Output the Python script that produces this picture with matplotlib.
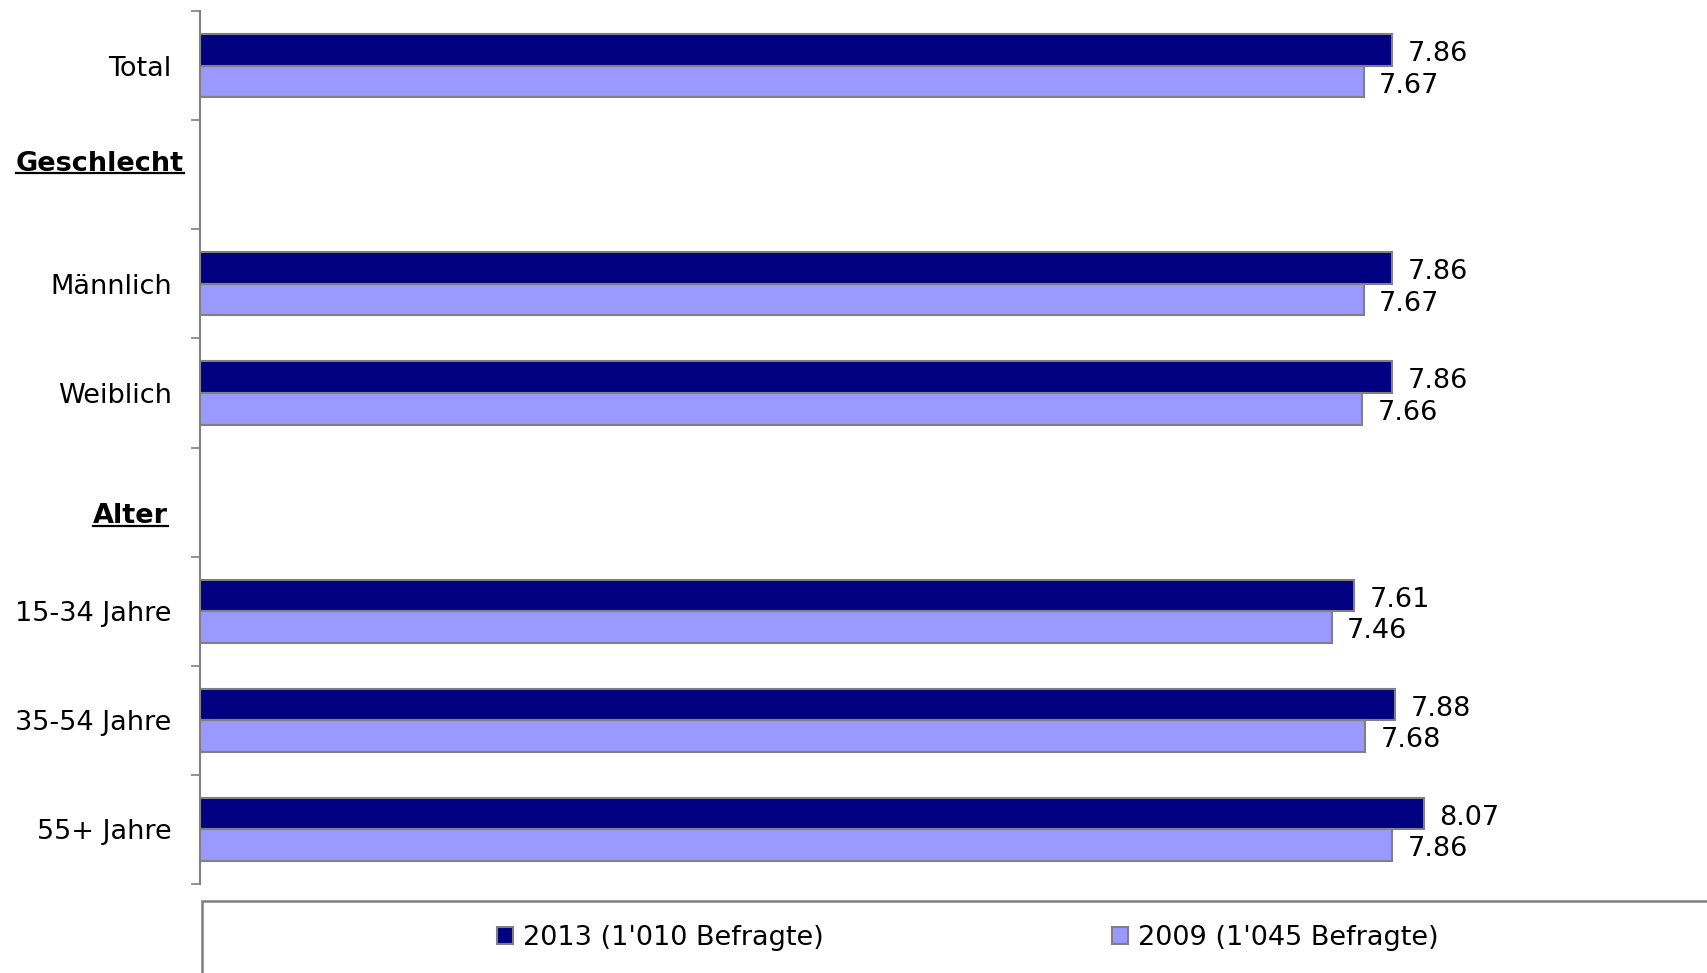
import numpy as np
import matplotlib.pyplot as plt
from matplotlib.patches import Rectangle
from matplotlib.lines import Line2D

plt.rcParams['font.family'] = ['DejaVu Sans']

# rows of the chart, header rows carry no bars
rows = ['Total', 'Geschlecht', 'Männlich', 'Weiblich', 'Alter',
        '15-34 Jahre', '35-54 Jahre', '55+ Jahre']
header_rows = ['Geschlecht', 'Alter']
data_rows = ['Total', 'Männlich', 'Weiblich', '15-34 Jahre', '35-54 Jahre', '55+ Jahre']
values_2013 = [7.86, 7.86, 7.86, 7.61, 7.88, 8.07]
values_2009 = [7.67, 7.67, 7.66, 7.46, 7.68, 7.86]
legend_labels = ["2013 (1'010 Befragte)", "2009 (1'045 Befragte)"]

dark = '#000080'
light = '#9999FF'
edge = '#808080'
fs = 19.5

W, H = 1708, 973
fig = plt.figure(figsize=(W / 100, H / 100), dpi=100)
ax = fig.add_axes([200 / W, 1 - 884 / H, 1 - 200 / W, (884 - 11) / H])

pos = np.array([rows.index(r) for r in data_rows])
bh = 0.29
b1 = ax.barh(pos - bh / 2, values_2013, height=bh, color=dark, edgecolor=edge, linewidth=1.5)
b2 = ax.barh(pos + bh / 2, values_2009, height=bh, color=light, edgecolor=edge, linewidth=1.5)

for bars, vals in ((b1, values_2013), (b2, values_2009)):
    for rect, v in zip(bars, vals):
        y = rect.get_y() + rect.get_height() / 2
        ax.annotate(f'{v:.2f}', (v, y), xytext=(11, -3), textcoords='offset points',
                    ha='left', va='center', fontsize=fs)

ax.set_xlim(0, 1508 / 151.7)
ax.set_ylim(len(rows) - 0.5, -0.5)

# category labels (header rows are drawn separately)
ax.set_yticks(range(len(rows)))
ax.set_yticklabels([r if r not in header_rows else '' for r in rows], fontsize=fs)
ax.tick_params(axis='y', which='major', length=0, pad=20.5)
ax.set_yticks(np.arange(-0.5, len(rows)), minor=True)
ax.tick_params(axis='y', which='minor', length=6.5, width=1.2, color=edge)
ax.set_xticks([])
for s in ('top', 'right', 'bottom'):
    ax.spines[s].set_visible(False)
ax.spines['left'].set_color(edge)
ax.spines['left'].set_linewidth(1.5)

# bold underlined headers
header_pos = {'Geschlecht': (184, 170.7), 'Alter': (168, 523)}
for name, (xr, yb) in header_pos.items():
    t = fig.text(xr / W, 1 - yb / H, name, ha='right', va='baseline',
                 fontsize=fs, fontweight='bold')
fig.canvas.draw()
renderer = fig.canvas.get_renderer()
for t in fig.texts:
    bb = t.get_window_extent(renderer)
    yb = t.get_position()[1] * H - 2.5
    fig.add_artist(Line2D([bb.x0 / W, bb.x1 / W], [yb / H, yb / H],
                          transform=fig.transFigure, color='black', linewidth=1.6))

# legend box
fig.add_artist(Rectangle((202 / W, -0.1), 1.0, 0.1 + (H - 900.7) / H,
                         transform=fig.transFigure, facecolor='none',
                         edgecolor=edge, linewidth=1.8, clip_on=False))
fig.legend([b1, b2], legend_labels, loc='center left',
           bbox_to_anchor=(497 / W, 1 - 938 / H), ncol=2, frameon=False,
           fontsize=fs, handlelength=0.6, handleheight=0.6, handletextpad=0.35,
           columnspacing=10.65, borderpad=0, borderaxespad=0)

fig.savefig('out.png', dpi=100)
